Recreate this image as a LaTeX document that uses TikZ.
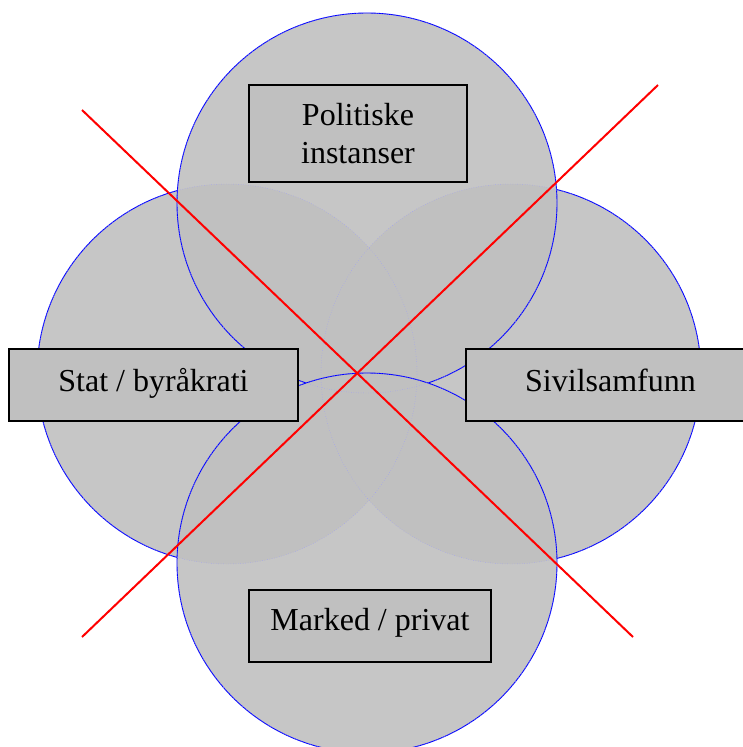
\documentclass[tikz,border=0pt]{standalone}
\usepackage{fontspec}
\setmainfont{Liberation Serif}
\definecolor{discfill}{HTML}{C6C6C6}
\definecolor{discoverlap}{HTML}{C0C0C0}
\definecolor{boxfill}{HTML}{C0C0C0}
\tikzset{
  disc/.style={fill=discfill},
  overlap/.style={fill=discoverlap},
  discedge/.style={draw=blue, line width=0.9pt},
  hiddenedge/.style={draw=blue!40, line width=0.45pt, dotted},
  crossline/.style={draw=red, line width=2pt},
  sectorbox/.style={draw=black, line width=2pt, fill=boxfill, inner sep=0pt,
    font=\fontsize{32}{38}\selectfont, align=center,
    text height=22pt, text depth=10pt},
}
\newcommand\discat[1]{(#1) circle[radius=190pt]}
\begin{document}
\begin{tikzpicture}[x=1pt, y=-1pt]
  \useasboundingbox (0,0) rectangle (743,747);
  \clip (0,0) rectangle (743,747);

  % centres of the four spheres
  \coordinate (cright) at (511,374);
  \coordinate (cleft)  at (227,374);
  \coordinate (ctop)   at (367,203);
  \coordinate (cbot)   at (367,563);

  % right sphere
  \fill[disc] \discat{cright};
  \draw[discedge] \discat{cright};

  % left sphere
  \fill[disc] \discat{cleft};
  \begin{scope}
    \clip \discat{cleft};
    \fill[overlap] \discat{cright};
  \end{scope}
  \draw[discedge] \discat{cleft};

  % top sphere
  \fill[disc] \discat{ctop};
  \begin{scope}
    \clip \discat{ctop};
    \fill[overlap] \discat{cright};
    \fill[overlap] \discat{cleft};
  \end{scope}
  \draw[discedge] \discat{ctop};

  % bottom sphere
  \fill[disc] \discat{cbot};
  \begin{scope}
    \clip \discat{cbot};
    \fill[overlap] \discat{cright};
    \fill[overlap] \discat{cleft};
    \fill[overlap] \discat{ctop};
  \end{scope}
  \draw[discedge] \discat{cbot};

  % covered outlines shown faintly
  \foreach \c in {cright,cleft,ctop,cbot}
    \draw[hiddenedge] \discat{\c};

  % crossing lines
  \coordinate (a1) at (82,110);
  \coordinate (a2) at (633,637);
  \coordinate (b1) at (658,85);
  \coordinate (b2) at (82,637);
  \draw[crossline] (a1) -- (a2);
  \draw[crossline] (b1) -- (b2);

  % labels
  \node[sectorbox, minimum width=218pt, minimum height=97pt,
        text height=, text depth=] (pol) at (358,133.5) {Politiske\\instanser};
  \node[sectorbox, minimum width=289pt, minimum height=72pt] (stat) at (153.5,385) {Stat / byråkrati};
  \node[sectorbox, minimum width=289pt, minimum height=72pt] (sivil) at (610.5,385) {Sivilsamfunn};
  \node[sectorbox, minimum width=242pt, minimum height=72pt, text depth=14pt] (marked) at (370,626) {Marked / privat};
\end{tikzpicture}
\end{document}
